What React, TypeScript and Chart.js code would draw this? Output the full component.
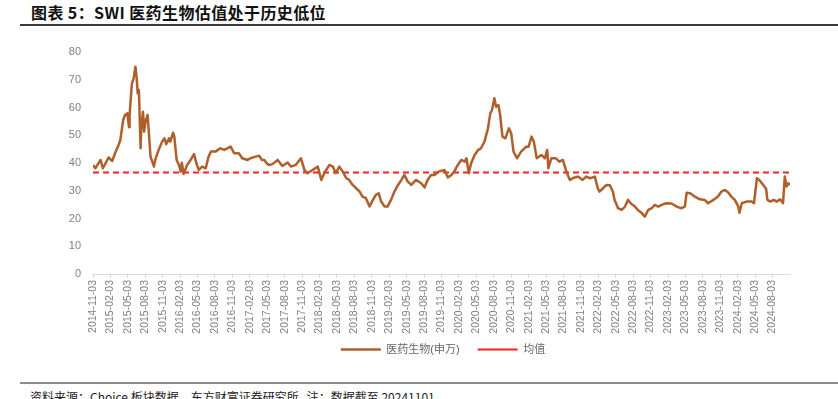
import { useEffect, useRef } from 'react';
import { Chart, registerables } from 'chart.js';

Chart.register(...registerables);

const titleText = '图表 5：SWI 医药生物估值处于历史低位';
const sourceText = '资料来源：Choice 板块数据，东方财富证券研究所   注：数据截至 20241101';
const seriesName = '医药生物(申万)';
const meanName = '均值';

const tickLabels = [
  '2014-11-03', '2015-02-03', '2015-05-03', '2015-08-03', '2015-11-03',
  '2016-02-03', '2016-05-03', '2016-08-03', '2016-11-03', '2017-02-03',
  '2017-05-03', '2017-08-03', '2017-11-03', '2018-02-03', '2018-05-03',
  '2018-08-03', '2018-11-03', '2019-02-03', '2019-05-03', '2019-08-03',
  '2019-11-03', '2020-02-03', '2020-05-03', '2020-08-03', '2020-11-03',
  '2021-02-03', '2021-05-03', '2021-08-03', '2021-11-03', '2022-02-03',
  '2022-05-03', '2022-08-03', '2022-11-03', '2023-02-03', '2023-05-03',
  '2023-08-03', '2023-11-03', '2024-02-03', '2024-05-03', '2024-08-03',
];
const tickStepMonths = 3;
const axisEndMonth = 120;

// months elapsed since 2014-11-03
const months = [
  0.0, 0.4, 1.3, 1.7, 2.7, 3.3, 3.8, 4.4, 4.7, 5.2, 5.5, 5.9, 6.2, 6.3, 6.7, 7.0, 7.3, 7.5, 7.7, 7.9,
  8.2, 8.3, 8.6, 8.8, 9.1, 9.4, 9.6, 9.9, 10.5, 10.7, 11.3, 11.9, 12.3, 12.6, 13.1, 13.3, 13.8, 14.0, 14.4, 14.8,
  15.1, 15.3, 15.6, 16.2, 16.8, 17.4, 17.8, 18.2, 18.8, 19.4, 19.9, 20.3, 21.1, 21.9, 22.6, 23.7, 24.3, 25.1, 25.7, 26.6,
  27.1, 28.0, 28.6, 29.1, 29.5, 29.9, 30.3, 30.9, 31.8, 32.6, 33.5, 34.1, 34.9, 35.8, 36.4, 36.9, 37.8, 38.7, 39.3, 39.8,
  40.7, 41.3, 41.8, 42.4, 43.0, 43.6, 44.1, 44.7, 45.3, 45.9, 46.4, 47.0, 47.6, 48.2, 48.7, 49.2, 49.6, 50.2, 50.7, 51.3,
  51.9, 52.5, 53.1, 53.6, 54.2, 54.8, 55.6, 56.5, 57.1, 57.6, 58.2, 58.8, 59.5, 60.5, 61.1, 61.7, 62.2, 62.8, 63.4, 64.0,
  64.3, 64.7, 65.1, 65.7, 66.3, 66.8, 67.4, 68.0, 68.4, 68.7, 69.1, 69.4, 69.8, 70.1, 70.5, 71.0, 71.6, 72.0, 72.4, 73.0,
  73.7, 74.6, 75.0, 75.5, 75.9, 76.4, 77.2, 77.8, 78.2, 78.4, 78.9, 79.7, 80.3, 80.9, 81.5, 82.1, 82.8, 83.5, 84.3, 84.9,
  85.6, 86.4, 86.9, 87.2, 87.8, 88.4, 89.0, 89.5, 89.8, 90.4, 91.0, 91.6, 92.1, 92.7, 93.3, 93.8, 94.4, 95.0, 95.6, 96.2,
  96.7, 97.3, 97.9, 98.7, 99.6, 100.5, 101.3, 101.9, 102.2, 102.8, 103.6, 104.5, 105.3, 105.9, 106.8, 107.6, 108.2, 108.8, 109.4, 109.9,
  110.5, 111.1, 111.3, 111.7, 112.5, 113.4, 113.8, 114.3, 114.7, 115.4, 115.9, 116.1, 116.6, 117.2, 117.7, 118.3, 118.8, 119.1, 119.4, 119.7,
  120.0,
];

const values = [
  39.3, 38.1, 41.1, 38.1, 42.0, 40.7, 43.5, 46.5, 48.3, 55.5, 57.3, 57.9, 52.9, 57.3, 68.7, 70.5, 74.7, 71.1, 65.1, 66.3,
  45.3, 51.9, 58.5, 51.3, 55.5, 57.3, 51.3, 42.3, 38.7, 41.1, 44.7, 47.7, 48.9, 46.8, 48.9, 47.7, 50.9, 49.5, 41.1, 39.3,
  36.9, 40.1, 36.0, 39.3, 41.1, 43.2, 39.9, 37.5, 38.7, 38.1, 42.3, 44.1, 44.1, 45.3, 44.7, 45.9, 43.5, 43.5, 41.7, 41.1,
  41.7, 42.3, 42.6, 41.1, 41.1, 39.9, 39.3, 39.6, 41.1, 38.9, 40.2, 38.7, 39.3, 41.7, 37.5, 36.3, 37.5, 38.7, 33.9, 36.3,
  39.3, 38.7, 36.3, 38.7, 36.9, 34.5, 33.9, 32.1, 30.9, 29.7, 27.9, 27.3, 24.3, 26.7, 28.5, 29.1, 26.1, 24.3, 24.3, 26.7,
  29.7, 32.1, 33.9, 35.7, 33.3, 32.1, 33.9, 32.7, 31.2, 33.9, 35.7, 35.7, 36.9, 37.5, 34.8, 35.7, 36.9, 39.3, 41.1, 40.5,
  41.7, 36.3, 39.9, 42.9, 44.7, 45.3, 47.7, 52.5, 57.9, 59.1, 63.3, 60.3, 60.9, 57.3, 49.5, 48.9, 52.5, 50.7, 44.1, 41.7,
  44.1, 45.9, 45.9, 49.5, 47.7, 41.7, 42.9, 41.7, 44.7, 38.1, 41.7, 41.7, 40.5, 41.1, 36.9, 33.9, 34.7, 35.1, 33.9, 35.1,
  34.5, 35.1, 30.9, 29.7, 30.9, 32.1, 32.0, 29.7, 26.7, 23.7, 23.1, 24.3, 26.7, 25.2, 24.3, 23.1, 22.1, 20.7, 23.1, 23.7,
  24.9, 24.3, 24.9, 25.5, 25.4, 24.3, 23.7, 24.3, 29.3, 29.1, 27.9, 26.9, 26.7, 25.5, 26.7, 27.9, 29.7, 30.3, 29.3, 27.9,
  26.7, 24.3, 22.1, 25.5, 26.1, 26.1, 25.5, 34.5, 33.9, 32.1, 30.6, 26.7, 26.1, 26.7, 26.1, 26.9, 25.5, 35.1, 31.5, 32.7,
  32.1,
];

const meanValue = 36.6;

const yMin = 0;
const yMax = 80;
const yStep = 10;

const FONT = "'Liberation Sans', 'Noto Sans CJK SC', sans-serif";

const legendNudge = {
  id: 'legendNudge',
  afterLayout(chart: any) {
    const lg = chart.legend;
    if (!lg) return;
    lg.left += 48;
    lg.right += 48;
    lg.top -= 8;
    lg.bottom -= 8;
  },
};

export default function App() {
  const canvasRef = useRef<HTMLCanvasElement | null>(null);

  useEffect(() => {
    const canvas = canvasRef.current;
    if (!canvas) return;
    const chart = new Chart(canvas, {
      type: 'line',
      plugins: [legendNudge],
      data: {
        datasets: [
          {
            label: seriesName,
            data: months.map((m, i) => ({ x: m, y: values[i] })),
            borderColor: '#AE5F2C',
            backgroundColor: '#AE5F2C',
            borderWidth: 2.5,
            borderJoinStyle: 'round',
            pointRadius: 0,
            pointHoverRadius: 0,
            tension: 0,
            pointStyle: 'line',
          },
          {
            label: meanName,
            data: [
              { x: 0, y: meanValue },
              { x: axisEndMonth, y: meanValue },
            ],
            borderColor: '#FF1F1F',
            backgroundColor: '#FF1F1F',
            borderWidth: 2,
            borderDash: [6, 4],
            pointRadius: 0,
            pointHoverRadius: 0,
            pointStyle: 'line',
          },
        ],
      },
      options: {
        animation: false,
        responsive: false,
        maintainAspectRatio: false,
        layout: { padding: { left: 0, right: 48, top: 22, bottom: 5 } },
        plugins: {
          title: { display: false },
          tooltip: { enabled: false },
          legend: {
            display: true,
            position: 'bottom',
            labels: {
              usePointStyle: true,
              pointStyleWidth: 40,
              padding: 18,
              color: '#666666',
              font: { family: FONT, size: 11 },
            },
          },
        },
        scales: {
          x: {
            type: 'linear',
            min: 0,
            max: axisEndMonth,
            afterBuildTicks: (scale: any) => {
              scale.ticks = tickLabels.map((_, i) => ({ value: i * tickStepMonths }));
            },
            afterFit: (scale: any) => {
              scale.height = 60;
            },
            ticks: {
              autoSkip: false,
              minRotation: 90,
              maxRotation: 90,
              padding: 2,
              color: '#7F7F7F',
              font: { family: FONT, size: 10.5 },
              callback: (value: any) => tickLabels[Math.round(Number(value) / tickStepMonths)] ?? '',
            },
            grid: {
              display: true,
              drawOnChartArea: false,
              drawTicks: true,
              tickLength: 4,
              color: '#D9D9D9',
            },
            border: { display: true, color: '#D9D9D9', width: 1 },
          },
          y: {
            min: yMin,
            max: yMax,
            afterFit: (scale: any) => {
              scale.width = 93;
            },
            ticks: {
              stepSize: yStep,
              padding: 12,
              color: '#7F7F7F',
              font: { family: FONT, size: 11 },
            },
            grid: { display: false, drawTicks: false },
            border: { display: false },
          },
        },
      },
    });
    return () => chart.destroy();
  }, []);

  return (
    <div
      style={{
        position: 'fixed',
        left: 0,
        top: 0,
        width: 838,
        height: 399,
        overflow: 'hidden',
        background: '#ffffff',
      }}
    >
      <div
        style={{
          position: 'absolute',
          left: 31,
          top: 2,
          fontFamily: "'Noto Sans CJK SC', sans-serif",
          fontWeight: 700,
          fontSize: 16,
          lineHeight: '20px',
          letterSpacing: '0.4px',
          color: '#111111',
          whiteSpace: 'nowrap',
        }}
      >
        {titleText}
      </div>
      <div style={{ position: 'absolute', left: 20, top: 24, width: 818, height: 2, background: '#3A3A3A' }} />
      <canvas
        ref={canvasRef}
        width={838}
        height={348}
        style={{ position: 'absolute', left: 0, top: 30, width: 838, height: 348 }}
      />
      <div style={{ position: 'absolute', left: 20, top: 382, width: 818, height: 2, background: '#8C8C8C' }} />
      <div
        style={{
          position: 'absolute',
          left: 30,
          top: 389,
          fontFamily: "'Noto Sans CJK SC', sans-serif",
          fontSize: 12,
          lineHeight: '16px',
          color: '#222222',
          whiteSpace: 'pre',
        }}
      >
        {sourceText}
      </div>
    </div>
  );
}
